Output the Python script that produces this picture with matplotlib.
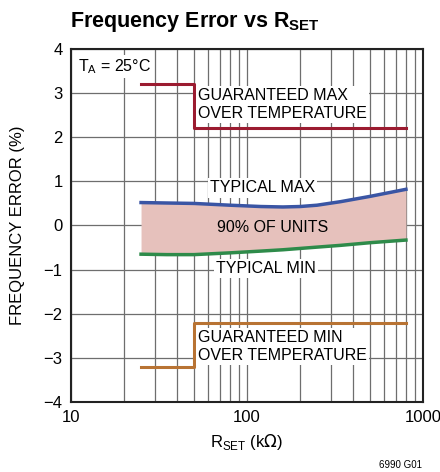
import matplotlib
matplotlib.use('Agg')
import matplotlib.pyplot as plt

plt.rcParams['font.family'] = ['Liberation Sans Narrow', 'Liberation Sans', 'DejaVu Sans']

# guaranteed limits over temperature
rset_lim = [25, 50, 50, 800]
max_lim = [3.2, 3.2, 2.2, 2.2]
min_lim = [-3.2, -3.2, -2.2, -2.2]

# typical max / min (90% of units)
rset_typ = [25, 35, 50, 80, 120, 160, 200, 250, 340, 500, 800]
typ_max = [0.52, 0.51, 0.50, 0.46, 0.43, 0.42, 0.43, 0.46, 0.54, 0.66, 0.82]
typ_min = [-0.65, -0.66, -0.66, -0.62, -0.58, -0.55, -0.52, -0.49, -0.45, -0.39, -0.33]

fig = plt.figure(figsize=(4.4, 4.72), dpi=100)
ax = fig.add_axes([71/440, 1 - 402/472, 352/440, 353/472])
ax.set_xscale('log')
ax.set_xlim(10, 1000)
ax.set_ylim(-4, 4)
ax.set_axisbelow(True)
ax.grid(True, which='both', color='#6e6e6e', lw=0.9)

ax.fill_between(rset_typ, typ_min, typ_max, color='#e6c1bc', lw=0, zorder=2)
ax.plot(rset_typ, typ_max, color='#3a55a4', lw=2.5, zorder=3)
ax.plot(rset_typ, typ_min, color='#2e8b4a', lw=2.5, zorder=3)
ax.plot(rset_lim, max_lim, color='#9b1b30', lw=2.2, zorder=3)
ax.plot(rset_lim, min_lim, color='#b87333', lw=2.2, zorder=3)

box = dict(facecolor='white', edgecolor='none', pad=1.5)
fs = 11.5
ax.text(11.0, 3.6, r'T$_\mathregular{A}$ = 25°C', fontsize=fs, va='center', ha='left', bbox=box, zorder=4)
ax.text(53, 2.74, 'GUARANTEED MAX\nOVER TEMPERATURE', fontsize=fs, va='center', ha='left',
        linespacing=1.25, bbox=box, zorder=4)
ax.text(122, 0.85, 'TYPICAL MAX', fontsize=fs, va='center', ha='center', bbox=box, zorder=4)
ax.text(139, -0.05, '90% OF UNITS', fontsize=fs, va='center', ha='center', zorder=4)
ax.text(128, -0.98, 'TYPICAL MIN', fontsize=fs, va='center', ha='center', bbox=box, zorder=4)
ax.text(53, -2.74, 'GUARANTEED MIN\nOVER TEMPERATURE', fontsize=fs, va='center', ha='left',
        linespacing=1.25, bbox=box, zorder=4)

ax.set_xticks([10, 100, 1000])
ax.set_xticklabels(['10', '100', '1000'])
ax.set_yticks(range(-4, 5))
ax.set_yticklabels([str(v).replace('-', '\u2212') for v in range(-4, 5)])
ax.tick_params(which='both', length=0, labelsize=12, pad=6)
for s in ax.spines.values():
    s.set_linewidth(1.5)
    s.set_color('#222222')

ax.set_xlabel(r'R$_\mathregular{SET}$ (k$\Omega$)', fontsize=12, labelpad=5)
ax.set_ylabel('FREQUENCY ERROR (%)', fontsize=12, labelpad=13)

fig.text(70/440, 1 - 22/472, r'Frequency Error vs R$_\mathregular{SET}$', fontsize=15.5,
         fontweight='bold', va='center', ha='left')
fig.text(422/440, 1 - 465/472, '6990 G01', fontsize=7, ha='right', va='center')

fig.savefig('out.png', dpi=100)
